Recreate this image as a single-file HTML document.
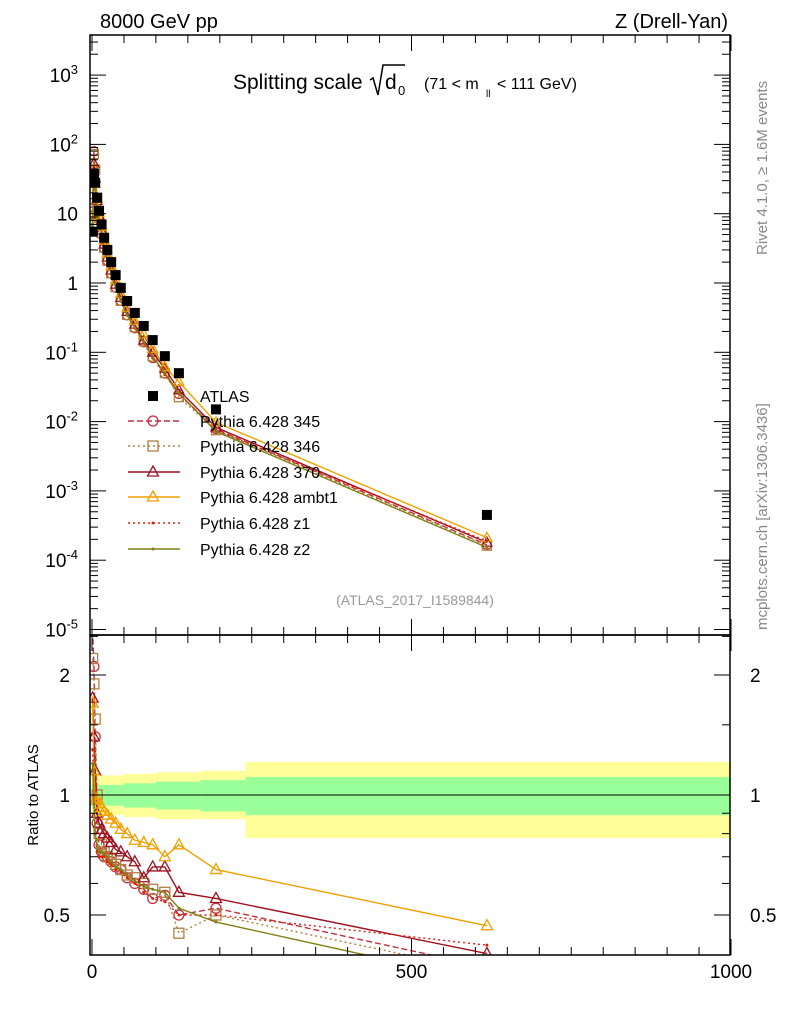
<!DOCTYPE html>
<html><head><meta charset="utf-8"><style>
html,body{margin:0;padding:0;background:#fff;}
svg{display:block;font-family:"Liberation Sans",sans-serif;}
</style></head><body>
<svg id="c" width="786" height="1024" viewBox="0 0 786 1024">
<defs>
<clipPath id="ct"><rect x="90" y="35" width="640" height="600"/></clipPath>
<clipPath id="cr"><rect x="90" y="635" width="640" height="320"/></clipPath>
</defs>
<g id="bands" clip-path="url(#cr)"></g>
<g id="top" clip-path="url(#ct)"></g>
<g id="rat" clip-path="url(#cr)"></g>
<g id="axes"></g>
<text x="100" y="28" font-size="20">8000 GeV pp</text>
<text x="728" y="28" font-size="20" text-anchor="end">Z (Drell-Yan)</text>
<text x="233" y="89" font-size="21">Splitting scale</text>
<path d="M370,80 l3,-2 l5,17 l5,-30 h22" fill="none" stroke="#000" stroke-width="1.5"/>
<text x="385" y="89" font-size="21">d</text>
<text x="398" y="95" font-size="13">0</text>
<text x="424" y="89" font-size="16">(71 &lt; m</text>
<text x="486" y="97" font-size="10">ll</text>
<text x="497" y="89" font-size="16">&lt; 111 GeV)</text>
<text x="415" y="605" font-size="14" fill="#999" text-anchor="middle">(ATLAS_2017_I1589844)</text>
<text transform="translate(767,255) rotate(-90)" font-size="15" fill="#888">Rivet 4.1.0, ≥ 1.6M events</text>
<text transform="translate(767,630) rotate(-90)" font-size="15" fill="#888">mcplots.cern.ch [arXiv:1306.3436]</text>
<text transform="translate(38,795) rotate(-90)" font-size="15" text-anchor="middle">Ratio to ATLAS</text>
<g id="legend"></g>
</svg>
<script>
const xs=[1,3,5,8,11,15,19,24,30,37,45,55,67,81,95,114,136,194,618];
const atlas=[5.5,38,28,17,11,7,4.5,3,2,1.3,0.85,0.55,0.37,0.24,0.15,0.088,0.05,0.015,0.00045];
const r345=[2.6,2.1,1.4,0.85,0.75,0.72,0.7,0.7,0.68,0.66,0.65,0.62,0.6,0.58,0.55,0.56,0.5,0.52,0.37];
const r346=[2.2,1.9,1.55,1.0,0.8,0.75,0.72,0.7,0.69,0.67,0.65,0.63,0.62,0.6,0.58,0.57,0.45,0.5,0.36];
const r370=[1.75,1.4,1.15,0.9,0.85,0.82,0.8,0.78,0.76,0.73,0.72,0.7,0.68,0.62,0.66,0.66,0.57,0.55,0.40];
const rambt1=[1.7,1.15,0.97,0.98,0.95,0.93,0.91,0.89,0.87,0.85,0.82,0.8,0.77,0.76,0.75,0.7,0.75,0.65,0.47];
const rz1=[1.3,1.0,0.8,0.72,0.7,0.7,0.7,0.68,0.67,0.65,0.64,0.62,0.6,0.57,0.55,0.54,0.5,0.5,0.42];
const rz2=[1.2,0.95,0.8,0.75,0.72,0.72,0.71,0.7,0.68,0.66,0.65,0.63,0.61,0.59,0.58,0.57,0.52,0.48,0.34];
const bandEdges=[0,10,50,100,170,240,1000];
const greenHi=[1.07,1.06,1.07,1.08,1.09,1.11];
const greenLo=[0.93,0.94,0.93,0.92,0.91,0.89];
const yellowHi=[1.12,1.12,1.13,1.14,1.15,1.21];
const yellowLo=[0.88,0.89,0.88,0.87,0.87,0.78];
const xTicks=[0,500,1000];
const yTickExp=[-5,-4,-3,-2,-1,0,1,2,3];
const yTickLbl=["10^-5","10^-4","10^-3","10^-2","10^-1","1","10","10^2","10^3"];
const rTicks=[0.5,1,2];

const NS="http://www.w3.org/2000/svg";
const X=v=>92+0.639*v;
const YT=v=>283-69.3*Math.log10(v);
const YR=r=>795-398.6*Math.log10(r);
function mk(p,tag,a){const e=document.createElementNS(NS,tag);for(const k in a)e.setAttribute(k,a[k]);p.appendChild(e);return e;}
const gB=document.getElementById('bands'),gT=document.getElementById('top'),gR=document.getElementById('rat'),gA=document.getElementById('axes'),gL=document.getElementById('legend');

for(let i=0;i<bandEdges.length-1;i++){
  const x0=X(bandEdges[i]),x1=X(bandEdges[i+1]);
  let e=mk(gB,'rect',{x:x0,y:YR(yellowHi[i]),width:x1-x0,height:YR(yellowLo[i])-YR(yellowHi[i]),fill:'#ffff99'});
  
  
  e=mk(gB,'rect',{x:x0,y:YR(greenHi[i]),width:x1-x0,height:YR(greenLo[i])-YR(greenHi[i]),fill:'#99ff99'});
  
  
}
mk(gB,'line',{x1:90,x2:730,y1:YR(1),y2:YR(1),stroke:'#000','stroke-width':1});

const series=[
 {n:'345',r:r345,c:'#c03040',dash:'6,3',m:'circle'},
 {n:'346',r:r346,c:'#b08040',dash:'2,3',m:'square'},
 {n:'370',r:r370,c:'#a01020',dash:'',m:'tri'},
 {n:'ambt1',r:rambt1,c:'#f0a000',dash:'',m:'tri'},
 {n:'z1',r:rz1,c:'#e02010',dash:'2,3',m:'dot'},
 {n:'z2',r:rz2,c:'#808010',dash:'',m:'dot'}];
function marker(g,m,x,y,c,s){
  if(m==='circle')return mk(g,'circle',{cx:x,cy:y,r:s,fill:'none',stroke:c,'stroke-width':1.3});
  if(m==='square')return mk(g,'rect',{x:x-s,y:y-s,width:2*s,height:2*s,fill:'none',stroke:c,'stroke-width':1.3});
  if(m==='tri')return mk(g,'path',{d:`M${x},${y-s*1.2} L${x+s*1.1},${y+s*0.8} L${x-s*1.1},${y+s*0.8}Z`,fill:'none',stroke:c,'stroke-width':1.3});
  return mk(g,'circle',{cx:x,cy:y,r:1.5,fill:c});
}
series.forEach(s=>{
  const top=atlas.map((a,i)=>a*s.r[i]);
  let e=mk(gT,'polyline',{points:xs.map((x,i)=>X(x)+','+YT(top[i])).join(' '),fill:'none',stroke:s.c,'stroke-width':1.4,'stroke-dasharray':s.dash});
  
  
  e=mk(gR,'polyline',{points:xs.map((x,i)=>X(x)+','+YR(s.r[i])).join(' '),fill:'none',stroke:s.c,'stroke-width':1.4,'stroke-dasharray':s.dash});
  
  
  xs.forEach((x,i)=>{
    let m=marker(gT,s.m,X(x),YT(top[i]),s.c,4.5);
    
    
    m=marker(gR,s.m,X(x),YR(s.r[i]),s.c,5);
    
    
  });
});
xs.forEach((x,i)=>{
  const e=mk(gT,'rect',{x:X(x)-5,y:YT(atlas[i])-5,width:10,height:10,fill:'#000'});
  
  
});

mk(gA,'rect',{x:90,y:35,width:640,height:600,fill:'none',stroke:'#000','stroke-width':1.5});
mk(gA,'rect',{x:90,y:635,width:640,height:320,fill:'none',stroke:'#000','stroke-width':1.5});
yTickExp.forEach((p,i)=>{
  const y=YT(Math.pow(10,p));
  mk(gA,'line',{x1:90,x2:106,y1:y,y2:y,stroke:'#000'});
  mk(gA,'line',{x1:714,x2:730,y1:y,y2:y,stroke:'#000'});
  for(let k=2;k<10;k++){const yy=YT(k*Math.pow(10,p));if(yy<35)break;
    mk(gA,'line',{x1:90,x2:98,y1:yy,y2:yy,stroke:'#000'});mk(gA,'line',{x1:722,x2:730,y1:yy,y2:yy,stroke:'#000'});}
  const l=yTickLbl[i];const t=mk(gA,'text',{x:78,y:y+7,'font-size':19,'text-anchor':'end'});
  
  
  if(l.indexOf('^')>0){const [b,e]=l.split('^');t.textContent=b;const ts=mk(t,'tspan',{dy:-8,'font-size':13});ts.textContent=e;}
  else t.textContent=l;
});
rTicks.forEach(r=>{const y=YR(r);
  mk(gA,'line',{x1:90,x2:106,y1:y,y2:y,stroke:'#000'});mk(gA,'line',{x1:714,x2:730,y1:y,y2:y,stroke:'#000'});
  [[70,'end'],[750,'start']].forEach(([x,a])=>{const t=mk(gA,'text',{x:x,y:y+7,'font-size':19,'text-anchor':a});t.textContent=String(r);
  
  });
});
[0.6,0.7,0.8,0.9,1.5,2.5].forEach(r=>{const y=YR(r);if(y<635)return;
  mk(gA,'line',{x1:90,x2:98,y1:y,y2:y,stroke:'#000'});mk(gA,'line',{x1:722,x2:730,y1:y,y2:y,stroke:'#000'});});
for(let v=0;v<=1000;v+=50){const x=X(v);const L=v%500===0?16:8;
  [[35,1],[635,1],[635,-1],[955,-1]].forEach(([y,d])=>mk(gA,'line',{x1:x,x2:x,y1:y,y2:y+d*L,stroke:'#000'}));}
xTicks.forEach(v=>{const t=mk(gA,'text',{x:X(v),y:978,'font-size':19,'text-anchor':'middle'});t.textContent=String(v);
  
  });

const ly=[396,421,446,472,497,523,549];
let e=mk(gL,'rect',{x:148,y:391,width:10,height:10,fill:'#000'});
let t=mk(gL,'text',{x:200,y:402,'font-size':16});t.textContent='ATLAS';


series.forEach((s,i)=>{const y=ly[i+1];
  mk(gL,'line',{x1:128,x2:180,y1:y,y2:y,stroke:s.c,'stroke-width':1.4,'stroke-dasharray':s.dash});
  marker(gL,s.m,153,y,s.c,5);
  const t=mk(gL,'text',{x:200,y:y+6,'font-size':16});t.textContent='Pythia 6.428 '+s.n;
  
  
});
</script>
</body></html>
